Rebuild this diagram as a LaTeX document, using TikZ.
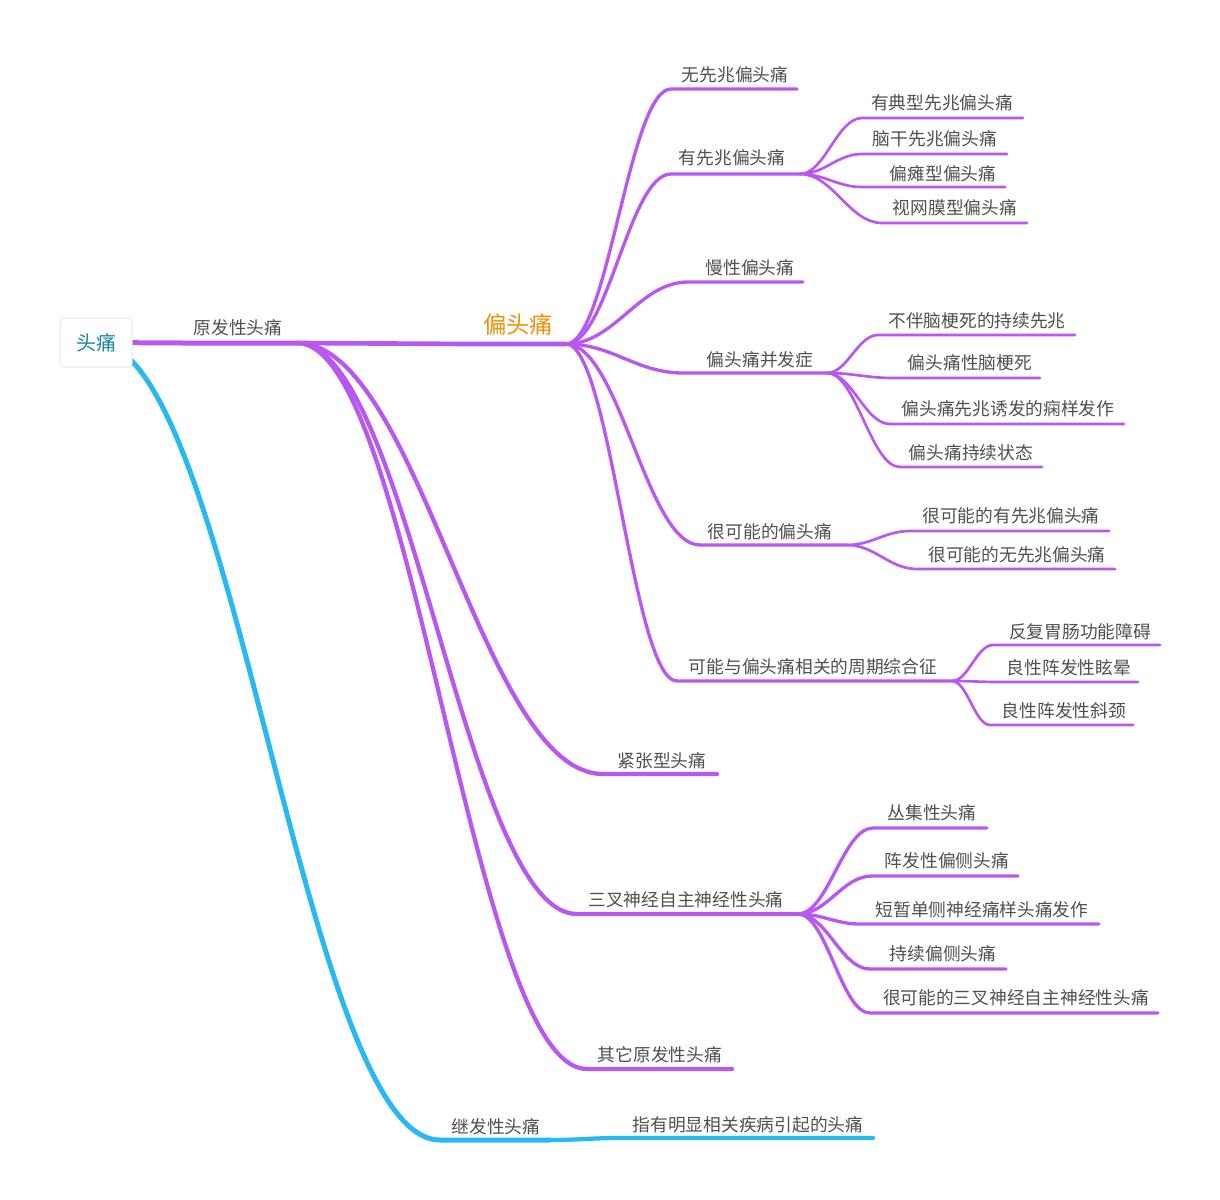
\documentclass[tikz,border=0pt]{standalone}
\usepackage{fontspec}
\setmainfont{Noto Sans CJK SC}
\usetikzlibrary{calc}
\pgfdeclarelayer{background}
\pgfsetlayers{background,main}
\definecolor{vio}{RGB}{185,88,240}
\definecolor{sky}{RGB}{40,185,242}
\definecolor{txt}{RGB}{80,80,80}
\definecolor{tealtxt}{RGB}{28,135,162}
\definecolor{orng}{RGB}{240,145,12}
\definecolor{boxline}{RGB}{232,232,232}
\begin{document}
\begin{tikzpicture}[x=0.75pt,y=-0.75pt,
  topic/.style={font=\fontsize{13.3pt}{16pt}\selectfont, text=txt, inner sep=0pt, text height=0.97em, text depth=0em},
  bigtopic/.style={topic, font=\fontsize{17.5pt}{20pt}\selectfont, text=orng},
  rootbox/.style={draw=boxline, fill=white, rounded corners=3pt, minimum width=54pt, minimum height=36.75pt, inner sep=0pt, line width=0.75pt},
  roottext/.style={inner sep=0pt, font=\fontsize{15pt}{18pt}\selectfont, text=tealtxt, text height=1.16em, text depth=0em},
  curvy/.style={to path={let \p1=(\tikztostart), \p2=(\tikztotarget) in .. controls ({\x1+0.4*(\x2-\x1)},\y1) and ({\x2-0.4*(\x2-\x1)},\y2) .. (\tikztotarget)}},
  conn/.style={line cap=round, line join=round},
  wa/.style={conn, line width=3.75pt},
  wb/.style={conn, line width=3.2pt},
  wc/.style={conn, line width=2.5pt},
  wd/.style={conn, line width=2pt},
]
\useasboundingbox (0,0) rectangle (1220,1199);

% root
\node[rootbox] (root) at (96,342.5) {};
\node[roottext] (roottxt) at (root.center) {头痛};

% level 1
\coordinate (yfs) at (183,343); \coordinate (yfe) at (297,343);
\node[topic] (yf) at (238,328) {原发性头痛};
\coordinate (jfs) at (440,1140); \coordinate (jfe) at (550,1140);
\node[topic] (jf) at (496,1127) {继发性头痛};
\coordinate (zys) at (620,1138); \coordinate (zye) at (873,1138);
\node[topic] (zy) at (748,1125) {指有明显相关疾病引起的头痛};

% level 2 (primary)
\coordinate (pts) at (470,344); \coordinate (pte) at (566,344);
\node[bigtopic] (pt) at (518,327) {偏头痛};
\coordinate (jzs) at (603,774); \coordinate (jze) at (717,774);
\node[topic] (jz) at (662,761) {紧张型头痛};
\coordinate (scs) at (577,914); \coordinate (sce) at (798,914);
\node[topic] (sc) at (686,900) {三叉神经自主神经性头痛};
\coordinate (qts) at (587,1069); \coordinate (qte) at (732,1069);
\node[topic] (qt) at (660,1055) {其它原发性头痛};

% migraine children
\coordinate (a1s) at (671,89); \coordinate (a1e) at (797,89);
\node[topic] (a1) at (735,75) {无先兆偏头痛};
\coordinate (a2s) at (671,174); \coordinate (a2e) at (800,174);
\node[topic] (a2) at (732,158) {有先兆偏头痛};
\coordinate (a3s) at (688,282); \coordinate (a3e) at (803,282);
\node[topic] (a3) at (750,268) {慢性偏头痛};
\coordinate (a4s) at (683,373); \coordinate (a4e) at (827,373);
\node[topic] (a4) at (760,360) {偏头痛并发症};
\coordinate (a5s) at (700,545); \coordinate (a5e) at (847,545);
\node[topic] (a5) at (770,532) {很可能的偏头痛};
\coordinate (a6s) at (677,681); \coordinate (a6e) at (952,681);
\node[topic] (a6) at (813,667) {可能与偏头痛相关的周期综合征};

% aura children
\coordinate (b1s) at (862,118); \coordinate (b1e) at (1023,118);
\node[topic] (b1) at (942,103) {有典型先兆偏头痛};
\coordinate (b2s) at (862,154); \coordinate (b2e) at (1007,154);
\node[topic] (b2) at (935,139) {脑干先兆偏头痛};
\coordinate (b3s) at (862,187); \coordinate (b3e) at (1005,187);
\node[topic] (b3) at (943,174) {偏瘫型偏头痛};
\coordinate (b4s) at (882,223); \coordinate (b4e) at (1027,223);
\node[topic] (b4) at (955,208) {视网膜型偏头痛};

% complication children
\coordinate (c1s) at (878,335); \coordinate (c1e) at (1075,335);
\node[topic] (c1) at (977,321) {不伴脑梗死的持续先兆};
\coordinate (c2s) at (893,378); \coordinate (c2e) at (1040,378);
\node[topic] (c2) at (970,363) {偏头痛性脑梗死};
\coordinate (c3s) at (890,424); \coordinate (c3e) at (1124,424);
\node[topic] (c3) at (1008,409) {偏头痛先兆诱发的痫样发作};
\coordinate (c4s) at (900,467); \coordinate (c4e) at (1042,467);
\node[topic] (c4) at (971,453) {偏头痛持续状态};

% probable children
\coordinate (d1s) at (910,531); \coordinate (d1e) at (1109,531);
\node[topic] (d1) at (1011,516) {很可能的有先兆偏头痛};
\coordinate (d2s) at (917,569); \coordinate (d2e) at (1115,569);
\node[topic] (d2) at (1017,555) {很可能的无先兆偏头痛};

% periodic syndromes children
\coordinate (e1s) at (993,645); \coordinate (e1e) at (1160,645);
\node[topic] (e1) at (1080,632) {反复胃肠功能障碍};
\coordinate (e2s) at (1000,682); \coordinate (e2e) at (1138,682);
\node[topic] (e2) at (1069,668) {良性阵发性眩晕};
\coordinate (e3s) at (990,725); \coordinate (e3e) at (1133,725);
\node[topic] (e3) at (1064,711) {良性阵发性斜颈};

% TAC children
\coordinate (f1s) at (873,828); \coordinate (f1e) at (987,828);
\node[topic] (f1) at (932,813) {丛集性头痛};
\coordinate (f2s) at (872,876); \coordinate (f2e) at (1018,876);
\node[topic] (f2) at (947,861) {阵发性偏侧头痛};
\coordinate (f3s) at (860,924); \coordinate (f3e) at (1099,924);
\node[topic] (f3) at (982,910) {短暂单侧神经痛样头痛发作};
\coordinate (f4s) at (870,969); \coordinate (f4e) at (1006,969);
\node[topic] (f4) at (943,954) {持续偏侧头痛};
\coordinate (f5s) at (870,1013); \coordinate (f5e) at (1158,1013);
\node[topic] (f5) at (1016,998) {很可能的三叉神经自主神经性头痛};

\begin{pgfonlayer}{background}
\fill[white] (0,0) rectangle (1220,1199);
% root branches
\draw[wa, vio] (root.center) -- (yfs) -- (yfe);
\draw[wa, sky] (root.center) to[curvy] (jfs) -- (jfe);
\draw[wb, sky] (jfe) to[curvy] (zys) -- (zye);
% primary
\draw[wb, vio, line width=3.5pt] (yfe) -- (pts) -- (pte);
\draw[wb, vio] (yfe) to[curvy] (jzs) -- (jze);
\draw[wb, vio] (yfe) to[curvy] (scs) -- (sce);
\draw[wb, vio] (yfe) to[curvy] (qts) -- (qte);
% migraine
\foreach \k in {a1,a2,a3,a4,a5,a6}{
  \draw[wc, vio] (pte) to[curvy] (\k s) -- (\k e);
}
\foreach \k in {b1,b2,b3,b4}{
  \draw[wd, vio] (a2e) to[curvy] (\k s) -- (\k e);
}
\foreach \k in {c1,c2,c3,c4}{
  \draw[wd, vio] (a4e) to[curvy] (\k s) -- (\k e);
}
\foreach \k in {d1,d2}{
  \draw[wd, vio] (a5e) to[curvy] (\k s) -- (\k e);
}
\foreach \k in {e1,e2,e3}{
  \draw[wd, vio] (a6e) to[curvy] (\k s) -- (\k e);
}
\foreach \k in {f1,f2,f3,f4,f5}{
  \draw[wc, vio] (sce) to[curvy] (\k s) -- (\k e);
}
\end{pgfonlayer}
\end{tikzpicture}
\end{document}
